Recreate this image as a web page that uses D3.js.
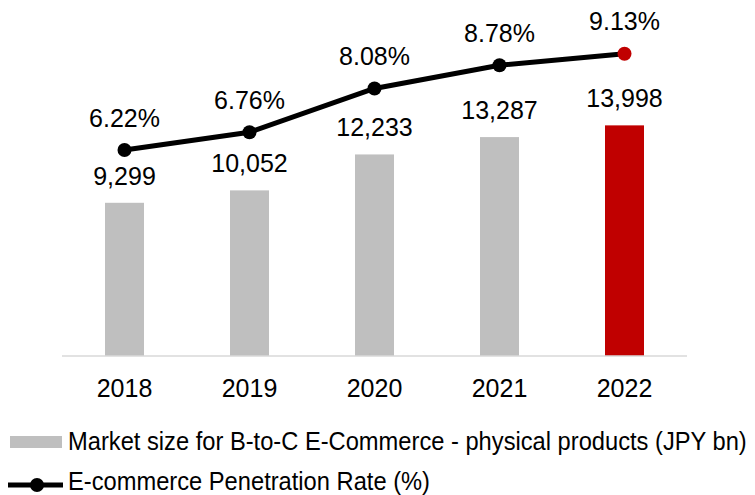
<!DOCTYPE html>
<html>
<head>
<meta charset="utf-8">
<script src="https://cdn.jsdelivr.net/npm/d3@7"></script>
<style>
  html, body { margin: 0; padding: 0; background: #fff; }
  svg { display: block; }
  text { font-family: "Liberation Sans", Arial, sans-serif; fill: #000; }
</style>
</head>
<body>
<script>
// Japan B-to-C e-commerce: market size (bars) and penetration rate (line)
const years = ["2018", "2019", "2020", "2021", "2022"];
const marketSize = [9299, 10052, 12233, 13287, 13998];   // JPY bn
const penetration = [6.22, 6.76, 8.08, 8.78, 9.13];      // %
const barLabels = ["9,299", "10,052", "12,233", "13,287", "13,998"];
const rateLabels = ["6.22%", "6.76%", "8.08%", "8.78%", "9.13%"];
const legendLabels = [
  "Market size for B-to-C E-Commerce - physical products (JPY bn)",
  "E-commerce Penetration Rate (%)"
];

const W = 755, H = 495;
const grey = "#bfbfbf", red = "#c00000";
const plot = { left: 62, right: 687, top: 10, bottom: 356 };

const svg = d3.select("body").append("svg")
  .attr("width", W).attr("height", H);

const x = d3.scaleBand().domain(years)
  .range([plot.left, plot.right]).paddingInner(0.688).paddingOuter(0.344);
const yBar = d3.scaleLinear().domain([0, 21000]).range([plot.bottom, plot.top]);
const yRate = d3.scaleLinear().domain([0, 10.45]).range([plot.bottom, plot.top]);
const cx = d => x(d) + x.bandwidth() / 2;
const last = years.length - 1;

// bars
svg.append("g").selectAll("rect").data(years).join("rect")
  .attr("x", d => x(d))
  .attr("y", (d, i) => yBar(marketSize[i]))
  .attr("width", x.bandwidth())
  .attr("height", (d, i) => plot.bottom - yBar(marketSize[i]))
  .attr("fill", (d, i) => i === last ? red : grey);

// category axis
const xAxis = svg.append("g")
  .attr("transform", `translate(0,${plot.bottom})`)
  .call(d3.axisBottom(x).tickSize(0).tickPadding(23));
xAxis.select(".domain").attr("stroke", "#d9d9d9").attr("stroke-width", 1.5)
  .attr("d", `M${plot.left},0H${plot.right}`);
xAxis.selectAll(".tick text")
  .attr("font-size", 25).attr("font-family", "Liberation Sans, Arial, sans-serif")
  .attr("fill", "#000");

// bar value labels
svg.append("g").selectAll("text").data(years).join("text")
  .attr("x", d => cx(d))
  .attr("y", (d, i) => yBar(marketSize[i]) - 18)
  .attr("text-anchor", "middle").attr("font-size", 25)
  .text((d, i) => barLabels[i]);

// penetration line
const line = d3.line().x(d => cx(d)).y((d, i) => yRate(penetration[i]));
svg.append("path").datum(years)
  .attr("d", line).attr("fill", "none")
  .attr("stroke", "#000").attr("stroke-width", 5)
  .attr("stroke-linejoin", "round");

svg.append("g").selectAll("circle").data(years).join("circle")
  .attr("cx", d => cx(d))
  .attr("cy", (d, i) => yRate(penetration[i]))
  .attr("r", 7)
  .attr("fill", (d, i) => i === last ? red : "#000");

// rate labels
svg.append("g").selectAll("text").data(years).join("text")
  .attr("x", d => cx(d))
  .attr("y", (d, i) => yRate(penetration[i]) - 23.5)
  .attr("text-anchor", "middle").attr("font-size", 25)
  .text((d, i) => rateLabels[i]);

// legend (text slightly condensed horizontally so the long entry fits)
const lg = svg.append("g");
lg.append("rect").attr("x", 10).attr("y", 436).attr("width", 52).attr("height", 12)
  .attr("fill", grey);
lg.append("text").attr("transform", "translate(68,450) scale(0.948,1)")
  .attr("font-size", 25)
  .text(legendLabels[0]);
lg.append("line").attr("x1", 8).attr("x2", 63).attr("y1", 485).attr("y2", 485)
  .attr("stroke", "#000").attr("stroke-width", 5);
lg.append("circle").attr("cx", 37).attr("cy", 485).attr("r", 7).attr("fill", "#000");
lg.append("text").attr("transform", "translate(68,490) scale(0.948,1)")
  .attr("font-size", 25)
  .text(legendLabels[1]);
</script>
</body>
</html>
